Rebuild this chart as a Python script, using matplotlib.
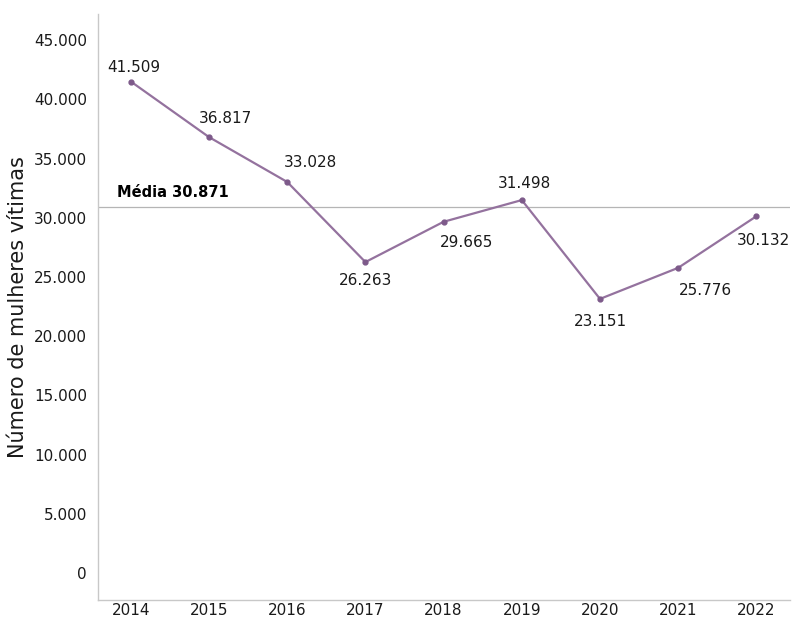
import numpy as np
import matplotlib
matplotlib.use('Agg')
import matplotlib.pyplot as plt

# anos e numero de mulheres vitimas
anos = ['2014', '2015', '2016', '2017', '2018', '2019', '2020', '2021', '2022']
vitimas = [41509, 36817, 33028, 26263, 29665, 31498, 23151, 25776, 30132]
media = 30871

# deslocamento dos rotulos (pixels)
label_offsets = [(3, 14), (16, 19), (23, 19), (0, -18), (23, -21), (3, 17), (0, -23), (27, -23), (7, -24)]


def fmt_br(v):
    return '{:,}'.format(int(v)).replace(',', '.')


plt.rcParams['font.family'] = ['DejaVu Sans']

fig = plt.figure(figsize=(7.92, 6.18), dpi=100)
ax = fig.add_axes([0.1237, 0.0291, 0.8738, 0.948])

x = np.arange(len(anos))
ax.plot(x, vitimas, '-', color='#94729e', lw=1.6, marker='o', ms=3.5,
        mfc='#7d5a8a', mec='#7d5a8a', zorder=3)

for xi, v, (dx, dy) in zip(x, vitimas, label_offsets):
    ax.annotate(fmt_br(v), (xi, v), xytext=(dx * 0.72, dy * 0.72), textcoords='offset points',
                ha='center', va='center', fontsize=11, color='#1a1a1a')

# linha da media
ax.axhline(media, color='#b5b5b5', lw=0.9, zorder=1)
ax.annotate('Média ' + fmt_br(media), (0, media), xytext=(-10, 11), textcoords='offset points',
            ha='left', va='center', fontsize=10.5, fontweight='bold', color='black')

ax.set_xlim(-0.42, 8.43)
ax.set_ylim(-2280, 47200)
ax.set_xticks(x)
ax.set_xticklabels(anos)
ax.set_yticks(np.arange(0, 45001, 5000))
ax.set_yticklabels([fmt_br(v) for v in np.arange(0, 45001, 5000)])
ax.tick_params(length=0, labelsize=11, colors='#1a1a1a', pad=8)
ax.tick_params(axis='x', pad=2)

for s in ['top', 'right']:
    ax.spines[s].set_visible(False)
for s in ['left', 'bottom']:
    ax.spines[s].set_color('#c8c8c8')
    ax.spines[s].set_linewidth(1.0)

ax.set_ylabel('Número de mulheres vítimas', fontsize=15, color='#1a1a1a', labelpad=4)

fig.savefig('out.png', dpi=100)
